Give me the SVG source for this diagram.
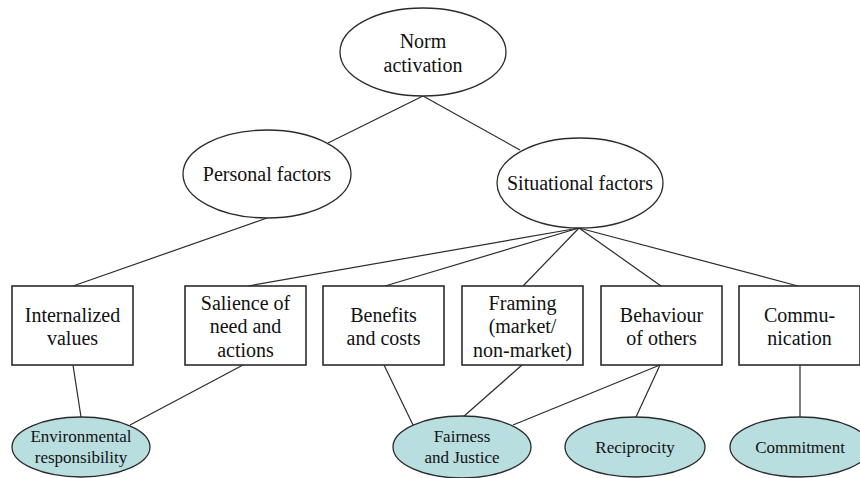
<svg xmlns="http://www.w3.org/2000/svg" width="860" height="478" viewBox="0 0 860 478">
  <style>
    .edge { stroke: #2b2b2b; stroke-width: 1.2; fill: none; }
    .oval { fill: #ffffff; stroke: #2b2b2b; stroke-width: 1.3; }
    .box { fill: #ffffff; stroke: #2b2b2b; stroke-width: 1.6; }
    .leaf { fill: #b9dedf; stroke: #2b2b2b; stroke-width: 1.3; }
    text { font-family: "Liberation Serif", "Times New Roman", serif; fill: #111111; text-anchor: middle; }
    .big { font-size: 20px; }
    .small { font-size: 17px; }
  </style>
  <rect width="860" height="478" fill="#ffffff"/>

  <g id="connectors">
    <line class="edge" x1="423" y1="96" x2="328" y2="143"/>
    <line class="edge" x1="423" y1="96" x2="520" y2="150"/>
    <line class="edge" x1="267" y1="218" x2="73" y2="286"/>
    <line class="edge" x1="579" y1="228" x2="248" y2="286"/>
    <line class="edge" x1="579" y1="228" x2="385" y2="286"/>
    <line class="edge" x1="579" y1="228" x2="523" y2="286"/>
    <line class="edge" x1="579" y1="228" x2="661" y2="286"/>
    <line class="edge" x1="579" y1="228" x2="798" y2="286"/>
    <line class="edge" x1="73" y1="365" x2="81" y2="417"/>
    <line class="edge" x1="243" y1="365" x2="130" y2="425"/>
    <line class="edge" x1="384" y1="365" x2="413" y2="425"/>
    <line class="edge" x1="522" y1="365" x2="463" y2="417"/>
    <line class="edge" x1="660" y1="365" x2="513" y2="425"/>
    <line class="edge" x1="660" y1="365" x2="636" y2="417"/>
    <line class="edge" x1="800" y1="365" x2="800" y2="417"/>
  </g>

  <g id="norm-activation">
    <ellipse class="oval" cx="423" cy="52" rx="83" ry="44"/>
    <text class="big" x="423" y="48">Norm</text>
    <text class="big" x="423" y="72">activation</text>
  </g>

  <g id="personal-factors">
    <ellipse class="oval" cx="267" cy="174" rx="84" ry="44"/>
    <text class="big" x="267" y="181">Personal factors</text>
  </g>

  <g id="situational-factors">
    <ellipse class="oval" cx="580" cy="183" rx="83" ry="45"/>
    <text class="big" x="580" y="190">Situational factors</text>
  </g>

  <g id="internalized-values">
    <rect class="box" x="12" y="286" width="121" height="79"/>
    <text class="big" x="72.5" y="322">Internalized</text>
    <text class="big" x="72.5" y="345">values</text>
  </g>

  <g id="salience">
    <rect class="box" x="185" y="286" width="121" height="79"/>
    <text class="big" x="245.5" y="310">Salience of</text>
    <text class="big" x="245.5" y="333">need and</text>
    <text class="big" x="245.5" y="357">actions</text>
  </g>

  <g id="benefits-costs">
    <rect class="box" x="323" y="286" width="121" height="79"/>
    <text class="big" x="383.5" y="322">Benefits</text>
    <text class="big" x="383.5" y="345">and costs</text>
  </g>

  <g id="framing">
    <rect class="box" x="462" y="286" width="121" height="79"/>
    <text class="big" x="522.5" y="310">Framing</text>
    <text class="big" x="522.5" y="333">(market/</text>
    <text class="big" x="522.5" y="357">non-market)</text>
  </g>

  <g id="behaviour-of-others">
    <rect class="box" x="601" y="286" width="121" height="79"/>
    <text class="big" x="661.5" y="322">Behaviour</text>
    <text class="big" x="661.5" y="345">of others</text>
  </g>

  <g id="communication">
    <rect class="box" x="739" y="286" width="121" height="79"/>
    <text class="big" x="799.5" y="322">Commu-</text>
    <text class="big" x="799.5" y="345">nication</text>
  </g>

  <g id="environmental-responsibility">
    <ellipse class="leaf" cx="81" cy="447" rx="69" ry="30"/>
    <text class="small" x="81" y="442">Environmental</text>
    <text class="small" x="81" y="463">responsibility</text>
  </g>

  <g id="fairness-justice">
    <ellipse class="leaf" cx="462" cy="447" rx="69" ry="31"/>
    <text class="small" x="462" y="442">Fairness</text>
    <text class="small" x="462" y="463">and Justice</text>
  </g>

  <g id="reciprocity">
    <ellipse class="leaf" cx="635" cy="447" rx="70" ry="30"/>
    <text class="small" x="635" y="453">Reciprocity</text>
  </g>

  <g id="commitment">
    <ellipse class="leaf" cx="800" cy="447" rx="70" ry="30"/>
    <text class="small" x="800" y="453">Commitment</text>
  </g>
</svg>
